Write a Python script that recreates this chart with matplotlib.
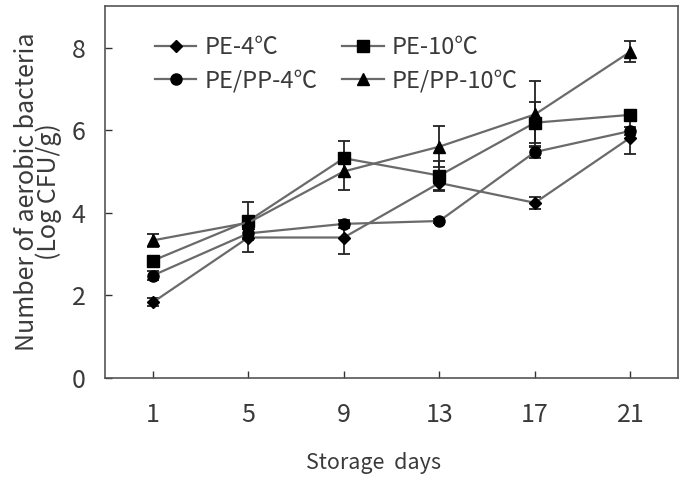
import matplotlib
matplotlib.use("Agg")
import matplotlib.pyplot as plt
import numpy as np

plt.rcParams['font.family'] = ['Noto Sans CJK KR', 'DejaVu Sans']

days = ["1", "5", "9", "13", "17", "21"]
series_names = ["PE-4℃", "PE-10℃", "PE/PP-4℃", "PE/PP-10℃"]
pe_4 = [1.83, 3.40, 3.40, 4.72, 4.24, 5.82]
pe_4_err = [0.10, 0.35, 0.40, 0.20, 0.15, 0.40]
pe_10 = [2.84, 3.80, 5.32, 4.90, 6.18, 6.37]
pe_10_err = [0.10, 0.45, 0.42, 0.35, 0.50, 0.10]
pepp_4 = [2.48, 3.50, 3.73, 3.80, 5.47, 5.98]
pepp_4_err = [0.10, 0.10, 0.10, 0.05, 0.15, 0.10]
pepp_10 = [3.33, 3.76, 5.00, 5.60, 6.38, 7.90]
pepp_10_err = [0.15, 0.10, 0.45, 0.50, 0.80, 0.25]

values = [pe_4, pe_10, pepp_4, pepp_10]
errors = [pe_4_err, pe_10_err, pepp_4_err, pepp_10_err]
markers = ["D", "s", "o", "^"]
msizes = [6.5, 8, 8, 8.5]

TXT = '#3a3a3a'

fig = plt.figure(figsize=(6.84, 4.79), dpi=100)
ax = fig.add_axes([0.1535, 0.211, 0.838, 0.776])

x = np.arange(len(days))
handles = {}
for name, v, e, m, ms in zip(series_names, values, errors, markers, msizes):
    ax.errorbar(x, v, yerr=e, fmt='none', ecolor='#222222', elinewidth=1.3,
                capsize=4, capthick=1.3, zorder=3)
    ln, = ax.plot(x, v, color='#6a6a6a', lw=1.6, marker=m, markersize=ms,
                  markerfacecolor='black', markeredgecolor='black', zorder=4)
    handles[name] = ln

order = ["PE-4℃", "PE/PP-4℃", "PE-10℃", "PE/PP-10℃"]
ax.legend([handles[n] for n in order], order, ncol=2, frameon=False,
          loc='upper left', bbox_to_anchor=(0.087, 0.92), fontsize=17,
          handlelength=1.75, handletextpad=0.35, columnspacing=1.05,
          labelspacing=0.45, borderaxespad=0.0, borderpad=0.0,
          labelcolor=TXT)

ax.set_xlim(-0.5, 5.5)
ax.set_ylim(0, 9)
ax.set_xticks(x)
ax.set_xticklabels(days)
ax.set_yticks([0, 2, 4, 6, 8])
ax.tick_params(direction='in', length=5, width=1, labelsize=18,
               labelcolor=TXT, color='#333333')
ax.tick_params(axis='x', pad=17)
ax.tick_params(axis='y', pad=14)
for s in ax.spines.values():
    s.set_color('#555555')
    s.set_linewidth(1.2)

ax.set_xlabel("Storage  days", fontsize=15.5, color=TXT)
ax.xaxis.set_label_coords(0.468, -0.2)
ax.set_ylabel("Number of aerobic bacteria\n(Log CFU/g)", fontsize=18,
              color=TXT, linespacing=0.8, labelpad=7)

fig.savefig("out.png", dpi=100)
